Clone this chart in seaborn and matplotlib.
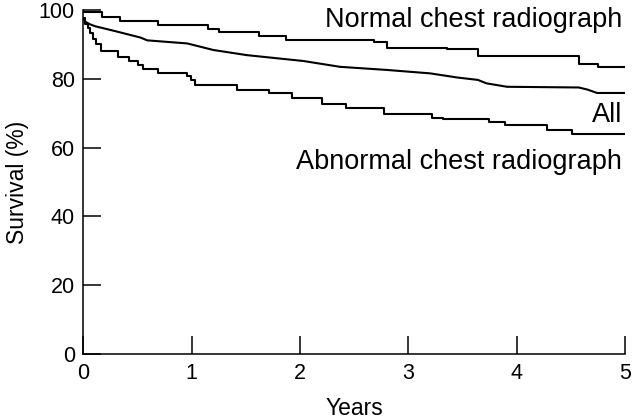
import seaborn as sns
import numpy as np
import pandas as pd
import matplotlib
matplotlib.use("Agg")
import matplotlib.pyplot as plt

# Kaplan-Meier style survival estimates
normal_years = [0.0, 0.17, 0.34, 0.69, 1.15, 1.25, 1.62, 1.87, 2.68, 2.80, 3.36, 3.64, 4.57, 4.75, 5.0]
normal_surv = [99.4, 98.0, 96.9, 95.6, 94.6, 93.7, 92.5, 91.4, 90.7, 88.9, 88.6, 86.6, 84.3, 83.4, 83.4]

all_years = [0.0, 0.02, 0.06, 0.11, 0.28, 0.53, 0.59, 0.96, 1.2, 1.51, 2.03, 2.37, 2.80,
             3.2, 3.45, 3.64, 3.72, 3.91, 4.57, 4.65, 4.74, 5.0]
all_surv = [97.6, 96.6, 95.9, 95.3, 94.0, 92.0, 91.2, 90.3, 88.4, 86.9, 85.2, 83.5, 82.6,
            81.6, 80.4, 79.7, 78.7, 77.7, 77.5, 76.9, 75.9, 75.9]

abn_years = [0.0, 0.02, 0.04, 0.065, 0.09, 0.12, 0.16, 0.32, 0.42, 0.51, 0.55, 0.69, 0.96,
             0.99, 1.03, 1.42, 1.71, 1.93, 2.2, 2.42, 2.77, 3.22, 3.32, 3.74, 3.89, 4.28,
             4.51, 5.0]
abn_surv = [97.6, 96.0, 94.8, 93.3, 91.6, 90.0, 88.0, 86.5, 85.2, 84.1, 82.8, 81.7, 80.7,
            79.7, 78.2, 76.9, 75.9, 74.3, 72.7, 71.4, 69.9, 68.7, 68.4, 67.4, 66.6, 65.2,
            64.0, 64.0]

x_ticks = [0, 1, 2, 3, 4, 5]
y_ticks = [0, 20, 40, 60, 80, 100]


def plot_survival():
    sns.set_style("ticks", {"axes.edgecolor": "black", "text.color": "black",
                            "axes.labelcolor": "black", "xtick.color": "black",
                            "ytick.color": "black"})
    plt.rcParams["font.family"] = ["Liberation Sans", "DejaVu Sans"]

    fig = plt.figure(figsize=(6.4, 4.2), dpi=100)
    ax = fig.add_axes([0.13, 0.157, 0.847, 0.819])

    df_n = pd.DataFrame({"Years": normal_years, "Survival": normal_surv})
    df_a = pd.DataFrame({"Years": all_years, "Survival": all_surv})
    df_b = pd.DataFrame({"Years": abn_years, "Survival": abn_surv})

    sns.lineplot(data=df_n, x="Years", y="Survival", ax=ax, color="black",
                 linewidth=1.5, drawstyle="steps-post")
    sns.lineplot(data=df_a, x="Years", y="Survival", ax=ax, color="black",
                 linewidth=1.5)
    sns.lineplot(data=df_b, x="Years", y="Survival", ax=ax, color="black",
                 linewidth=1.5, drawstyle="steps-post")

    ax.set_xlim(0, 5)
    ax.set_ylim(0, 100)
    ax.set_xticks(x_ticks)
    ax.set_yticks(y_ticks)
    ax.tick_params(direction="in", length=13, width=1.1, labelsize=15.5,
                   color="black", labelcolor="black")
    ax.tick_params(axis="x", pad=6.5)
    ax.tick_params(axis="y", pad=6)
    ax.set_xlabel("Years", fontsize=16.5, color="black")
    ax.set_ylabel("Survival (%)", fontsize=16.5, color="black")
    ax.xaxis.set_label_coords(0.5, -0.125)
    ax.yaxis.set_label_coords(-0.1, 0.5)
    sns.despine(ax=ax)
    for s in ("left", "bottom"):
        ax.spines[s].set_linewidth(1.1)
        ax.spines[s].set_color("black")

    ax.text(4.97, 95.1, "Normal chest radiograph", ha="right", va="baseline",
            fontsize=19.5, color="black")
    ax.text(4.97, 67.5, "All", ha="right", va="baseline", fontsize=19.5, color="black")
    ax.text(4.97, 53.7, "Abnormal chest radiograph", ha="right", va="baseline",
            fontsize=19.5, color="black")

    fig.savefig("out.png", dpi=100)


if __name__ == "__main__":
    plot_survival()
